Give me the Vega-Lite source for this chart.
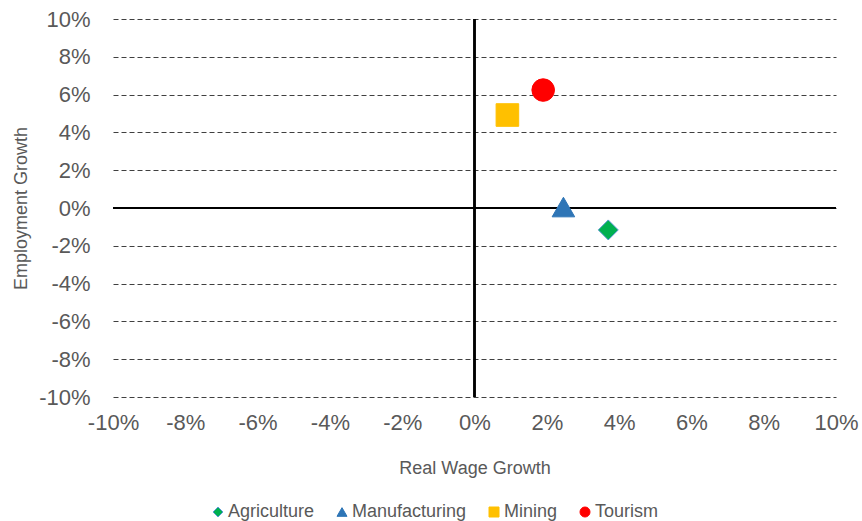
{
  "$schema": "https://vega.github.io/schema/vega-lite/v6.json",
  "width": 723,
  "height": 378,
  "autosize": {"type": "none"},
  "padding": {"left": 113, "top": 19, "right": 26, "bottom": 124},
  "config": {"view": {"stroke": null}, "font": "Liberation Sans"},
  "data": {"values": [
    {"Sector": "Agriculture", "wage": 0.037, "emp": -0.0116},
    {"Sector": "Manufacturing", "wage": 0.0246, "emp": 0.0005},
    {"Sector": "Mining", "wage": 0.0091, "emp": 0.0492},
    {"Sector": "Tourism", "wage": 0.019, "emp": 0.0624}
  ]},
  "layer": [
    {
      "mark": {"type": "rule", "color": "black", "strokeWidth": 2},
      "encoding": {"y": {"datum": 0, "type": "quantitative",
          "scale": {"domain": [-0.1, 0.1], "nice": false, "zero": false},
          "axis": {"values": [-0.1,-0.08,-0.06,-0.04,-0.02,0,0.02,0.04,0.06,0.08,0.1],
            "labelExpr": "(datum.value < -0.0001 ? '-' : '') + format(abs(datum.value), '.0%')",
            "labelFontSize": 22, "labelColor": "#595959", "labelPadding": 23,
            "labelOverlap": false, "labelFlush": false, "labelBound": false,
            "domain": false, "ticks": false, "grid": true, "gridDash": [5, 3],
            "gridColor": "#404040", "gridWidth": 1,
            "title": "Employment Growth", "titleFontSize": 18, "titleFontWeight": "normal",
            "titleColor": "#595959", "titlePadding": 8}}}
    },
    {
      "mark": {"type": "rule", "color": "black", "strokeWidth": 2},
      "encoding": {"x": {"datum": 0, "type": "quantitative",
          "scale": {"domain": [-0.1, 0.1], "nice": false, "zero": false},
          "axis": {"values": [-0.1,-0.08,-0.06,-0.04,-0.02,0,0.02,0.04,0.06,0.08,0.1],
            "labelExpr": "(datum.value < -0.0001 ? '-' : '') + format(abs(datum.value), '.0%')",
            "labelFontSize": 22, "labelColor": "#595959", "labelPadding": 15,
            "labelOverlap": false, "labelFlush": false, "labelBound": false,
            "domain": false, "ticks": false, "grid": false,
            "title": "Real Wage Growth", "titleFontSize": 18, "titleFontWeight": "normal",
            "titleColor": "#595959", "titlePadding": 26}}}
    },
    {
      "mark": {"type": "point", "filled": true, "opacity": 1, "strokeWidth": 1},
      "encoding": {
        "x": {"field": "wage", "type": "quantitative",
          "scale": {"domain": [-0.1, 0.1], "nice": false, "zero": false},
          "axis": {"values": [-0.1,-0.08,-0.06,-0.04,-0.02,0,0.02,0.04,0.06,0.08,0.1],
            "labelExpr": "(datum.value < -0.0001 ? '-' : '') + format(abs(datum.value), '.0%')",
            "labelFontSize": 22, "labelColor": "#595959", "labelPadding": 15,
            "labelOverlap": false, "labelFlush": false, "labelBound": false,
            "domain": false, "ticks": false, "grid": false,
            "title": "Real Wage Growth", "titleFontSize": 18, "titleFontWeight": "normal",
            "titleColor": "#595959", "titlePadding": 26}},
        "y": {"field": "emp", "type": "quantitative",
          "scale": {"domain": [-0.1, 0.1], "nice": false, "zero": false},
          "axis": {"values": [-0.1,-0.08,-0.06,-0.04,-0.02,0,0.02,0.04,0.06,0.08,0.1],
            "labelExpr": "(datum.value < -0.0001 ? '-' : '') + format(abs(datum.value), '.0%')",
            "labelFontSize": 22, "labelColor": "#595959", "labelPadding": 23,
            "labelOverlap": false, "labelFlush": false, "labelBound": false,
            "domain": false, "ticks": false, "grid": true, "gridDash": [5, 3],
            "gridColor": "#404040", "gridWidth": 1,
            "title": "Employment Growth", "titleFontSize": 18, "titleFontWeight": "normal",
            "titleColor": "#595959", "titlePadding": 8}},
        "color": {"field": "Sector", "type": "nominal",
          "scale": {"domain": ["Agriculture", "Manufacturing", "Mining", "Tourism"],
            "range": ["#00B050", "#2E75B6", "#FFC000", "#FF0000"]},
          "legend": {"orient": "none", "legendX": 96, "legendY": 484, "direction": "horizontal",
            "title": null, "labelFontSize": 18, "labelColor": "#595959", "symbolSize": 100,
            "labelOffset": 1, "columnPadding": 18, "padding": 0, "symbolStrokeWidth": 1}},
        "stroke": {"field": "Sector", "type": "nominal",
          "scale": {"domain": ["Agriculture", "Manufacturing", "Mining", "Tourism"],
            "range": ["#5B9BD5", "#2E75B6", "#FFC000", "#FF0000"]}},
        "shape": {"field": "Sector", "type": "nominal",
          "scale": {"domain": ["Agriculture", "Manufacturing", "Mining", "Tourism"],
            "range": ["diamond", "triangle-up", "square", "circle"]}},
        "size": {"condition": {"test": "datum.Sector == 'Agriculture'", "value": 400}, "value": 510}
      }
    }
  ]
}
